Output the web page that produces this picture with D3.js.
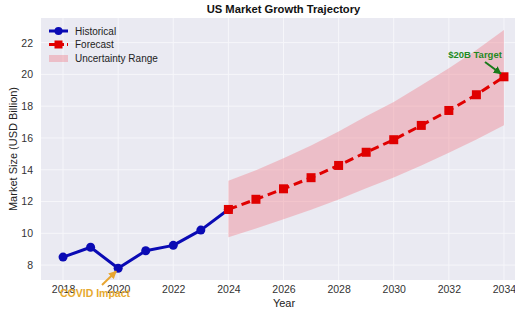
<!DOCTYPE html>
<html><head><meta charset="utf-8">
<script src="https://cdn.jsdelivr.net/npm/d3@7"></script>
<style>body{margin:0;background:#fff}svg{display:block}text{font-family:"Liberation Sans",Arial,sans-serif}</style>
</head><body>
<svg id="c" width="515" height="311"></svg>
<script>
const histYears = [2018, 2019, 2020, 2021, 2022, 2023, 2024];
const histValues = [8.5, 9.12, 7.8, 8.9, 9.24, 10.2, 11.5];
const foreYears = [2024, 2025, 2026, 2027, 2028, 2029, 2030, 2031, 2032, 2033, 2034];
const foreValues = [11.5, 12.14, 12.8, 13.5, 14.27, 15.1, 15.89, 16.79, 17.73, 18.72, 19.85];
const upperValues = [13.3, 13.97, 14.72, 15.53, 16.41, 17.37, 18.27, 19.31, 20.39, 21.53, 22.8];
const lowerValues = [9.75, 10.3, 10.88, 11.48, 12.13, 12.84, 13.51, 14.27, 15.07, 15.91, 16.8];
const xTicks = [2018, 2020, 2022, 2024, 2026, 2028, 2030, 2032, 2034];
const yTicks = [8, 10, 12, 14, 16, 18, 20, 22];

const svg = d3.select("#c");
const L = 41, R = 526, T = 18, B = 280;
const x = d3.scaleLinear().domain([2017.2, 2034.8]).range([L, R]);
const y = d3.scaleLinear().domain([7.06, 23.55]).range([B, T]);

svg.append("rect").attr("x", L).attr("y", T).attr("width", R - L).attr("height", B - T).attr("fill", "#eaeaf2");

// grid
svg.append("g").selectAll("line").data(xTicks).join("line")
  .attr("x1", d => x(d)).attr("x2", d => x(d)).attr("y1", T).attr("y2", B)
  .attr("stroke", "#f6f6fa").attr("stroke-width", 1);
svg.append("g").selectAll("line").data(yTicks).join("line")
  .attr("x1", L).attr("x2", R).attr("y1", d => y(d)).attr("y2", d => y(d))
  .attr("stroke", "#f6f6fa").attr("stroke-width", 1);

// axes
const xAxis = svg.append("g").attr("transform", `translate(0,${B})`)
  .call(d3.axisBottom(x).tickValues(xTicks).tickFormat(d3.format("d")).tickSize(0).tickPadding(6));
const yAxis = svg.append("g").attr("transform", `translate(${L},0)`)
  .call(d3.axisLeft(y).tickValues(yTicks).tickSize(0).tickPadding(8));
[xAxis, yAxis].forEach(g => {
  g.select(".domain").remove();
  g.selectAll("text").attr("font-size", 10.5).attr("fill", "#333").attr("font-family", "Liberation Sans, Arial, sans-serif");
});

// band
const band = foreYears.map((yr, i) => ({yr, hi: upperValues[i], lo: lowerValues[i]}));
svg.append("path").datum(band)
  .attr("d", d3.area().x(d => x(d.yr)).y0(d => y(d.lo)).y1(d => y(d.hi)))
  .attr("fill", "#f08a94").attr("fill-opacity", 0.45);

// historical
const hist = histYears.map((yr, i) => ({yr, v: histValues[i]}));
svg.append("path").datum(hist)
  .attr("d", d3.line().x(d => x(d.yr)).y(d => y(d.v)))
  .attr("fill", "none").attr("stroke", "#0a0ab4").attr("stroke-width", 3).attr("stroke-linejoin", "round");
svg.append("g").selectAll("circle").data(hist).join("circle")
  .attr("cx", d => x(d.yr)).attr("cy", d => y(d.v)).attr("r", 4.5).attr("fill", "#0a0ab4");

// forecast
const fore = foreYears.map((yr, i) => ({yr, v: foreValues[i]}));
svg.append("path").datum(fore)
  .attr("d", d3.line().x(d => x(d.yr)).y(d => y(d.v)))
  .attr("fill", "none").attr("stroke", "#e00000").attr("stroke-width", 3).attr("stroke-dasharray", "9,5");
svg.append("g").selectAll("rect").data(fore).join("rect")
  .attr("x", d => x(d.yr) - 4.5).attr("y", d => y(d.v) - 4.5).attr("width", 9).attr("height", 9).attr("fill", "#e00000");

// annotations
const defs = svg.append("defs");
function marker(id, color) {
  defs.append("marker").attr("id", id).attr("viewBox", "0 0 10 10").attr("refX", 9).attr("refY", 5)
    .attr("markerWidth", 4).attr("markerHeight", 4).attr("orient", "auto")
    .append("path").attr("d", "M0,0L10,5L0,10z").attr("fill", color);
}
marker("ao", "#e8a530"); marker("ag", "#1a7a1a");
svg.append("line").attr("x1", 102).attr("y1", 285).attr("x2", x(2020) - 2).attr("y2", y(7.8) + 3)
  .attr("stroke", "#e8a530").attr("stroke-width", 2).attr("marker-end", "url(#ao)");
svg.append("text").attr("x", 95).attr("y", 297).attr("text-anchor", "middle")
  .attr("font-size", 10.5).attr("font-weight", "bold").attr("fill", "#e6a92e").text("COVID Impact");
svg.append("line").attr("x1", 485).attr("y1", 62).attr("x2", x(2034) - 3).attr("y2", y(19.85) - 3)
  .attr("stroke", "#1a7a1a").attr("stroke-width", 2).attr("marker-end", "url(#ag)");
svg.append("text").attr("x", 475).attr("y", 58).attr("text-anchor", "middle")
  .attr("font-size", 9.5).attr("font-weight", "bold").attr("fill", "#1f8a1f").text("$20B Target");

// legend
const lg = svg.append("g");
lg.append("line").attr("x1", 49).attr("x2", 68).attr("y1", 31).attr("y2", 31).attr("stroke", "#0a0ab4").attr("stroke-width", 3);
lg.append("circle").attr("cx", 58.5).attr("cy", 31).attr("r", 4).attr("fill", "#0a0ab4");
lg.append("line").attr("x1", 49).attr("x2", 68).attr("y1", 44.5).attr("y2", 44.5).attr("stroke", "#e00000").attr("stroke-width", 3).attr("stroke-dasharray", "6,3");
lg.append("rect").attr("x", 54.5).attr("y", 40.5).attr("width", 8).attr("height", 8).attr("fill", "#e00000");
lg.append("rect").attr("x", 49).attr("y", 55).attr("width", 19).attr("height", 7).attr("fill", "#f08a94").attr("fill-opacity", 0.45);
[["Historical", 34.5], ["Forecast", 48], ["Uncertainty Range", 62]].forEach(([t, yy]) => {
  lg.append("text").attr("x", 75).attr("y", yy).attr("font-size", 10).attr("fill", "#222").text(t);
});

// titles
svg.append("text").attr("x", 283.5).attr("y", 13).attr("text-anchor", "middle")
  .attr("font-size", 11.2).attr("font-weight", "bold").attr("fill", "#111").text("US Market Growth Trajectory");
svg.append("text").attr("x", 284).attr("y", 307).attr("text-anchor", "middle")
  .attr("font-size", 11).attr("fill", "#222").text("Year");
svg.append("text").attr("transform", "translate(17,149) rotate(-90)").attr("text-anchor", "middle")
  .attr("font-size", 11).attr("fill", "#222").text("Market Size (USD Billion)");
</script>
</body></html>
